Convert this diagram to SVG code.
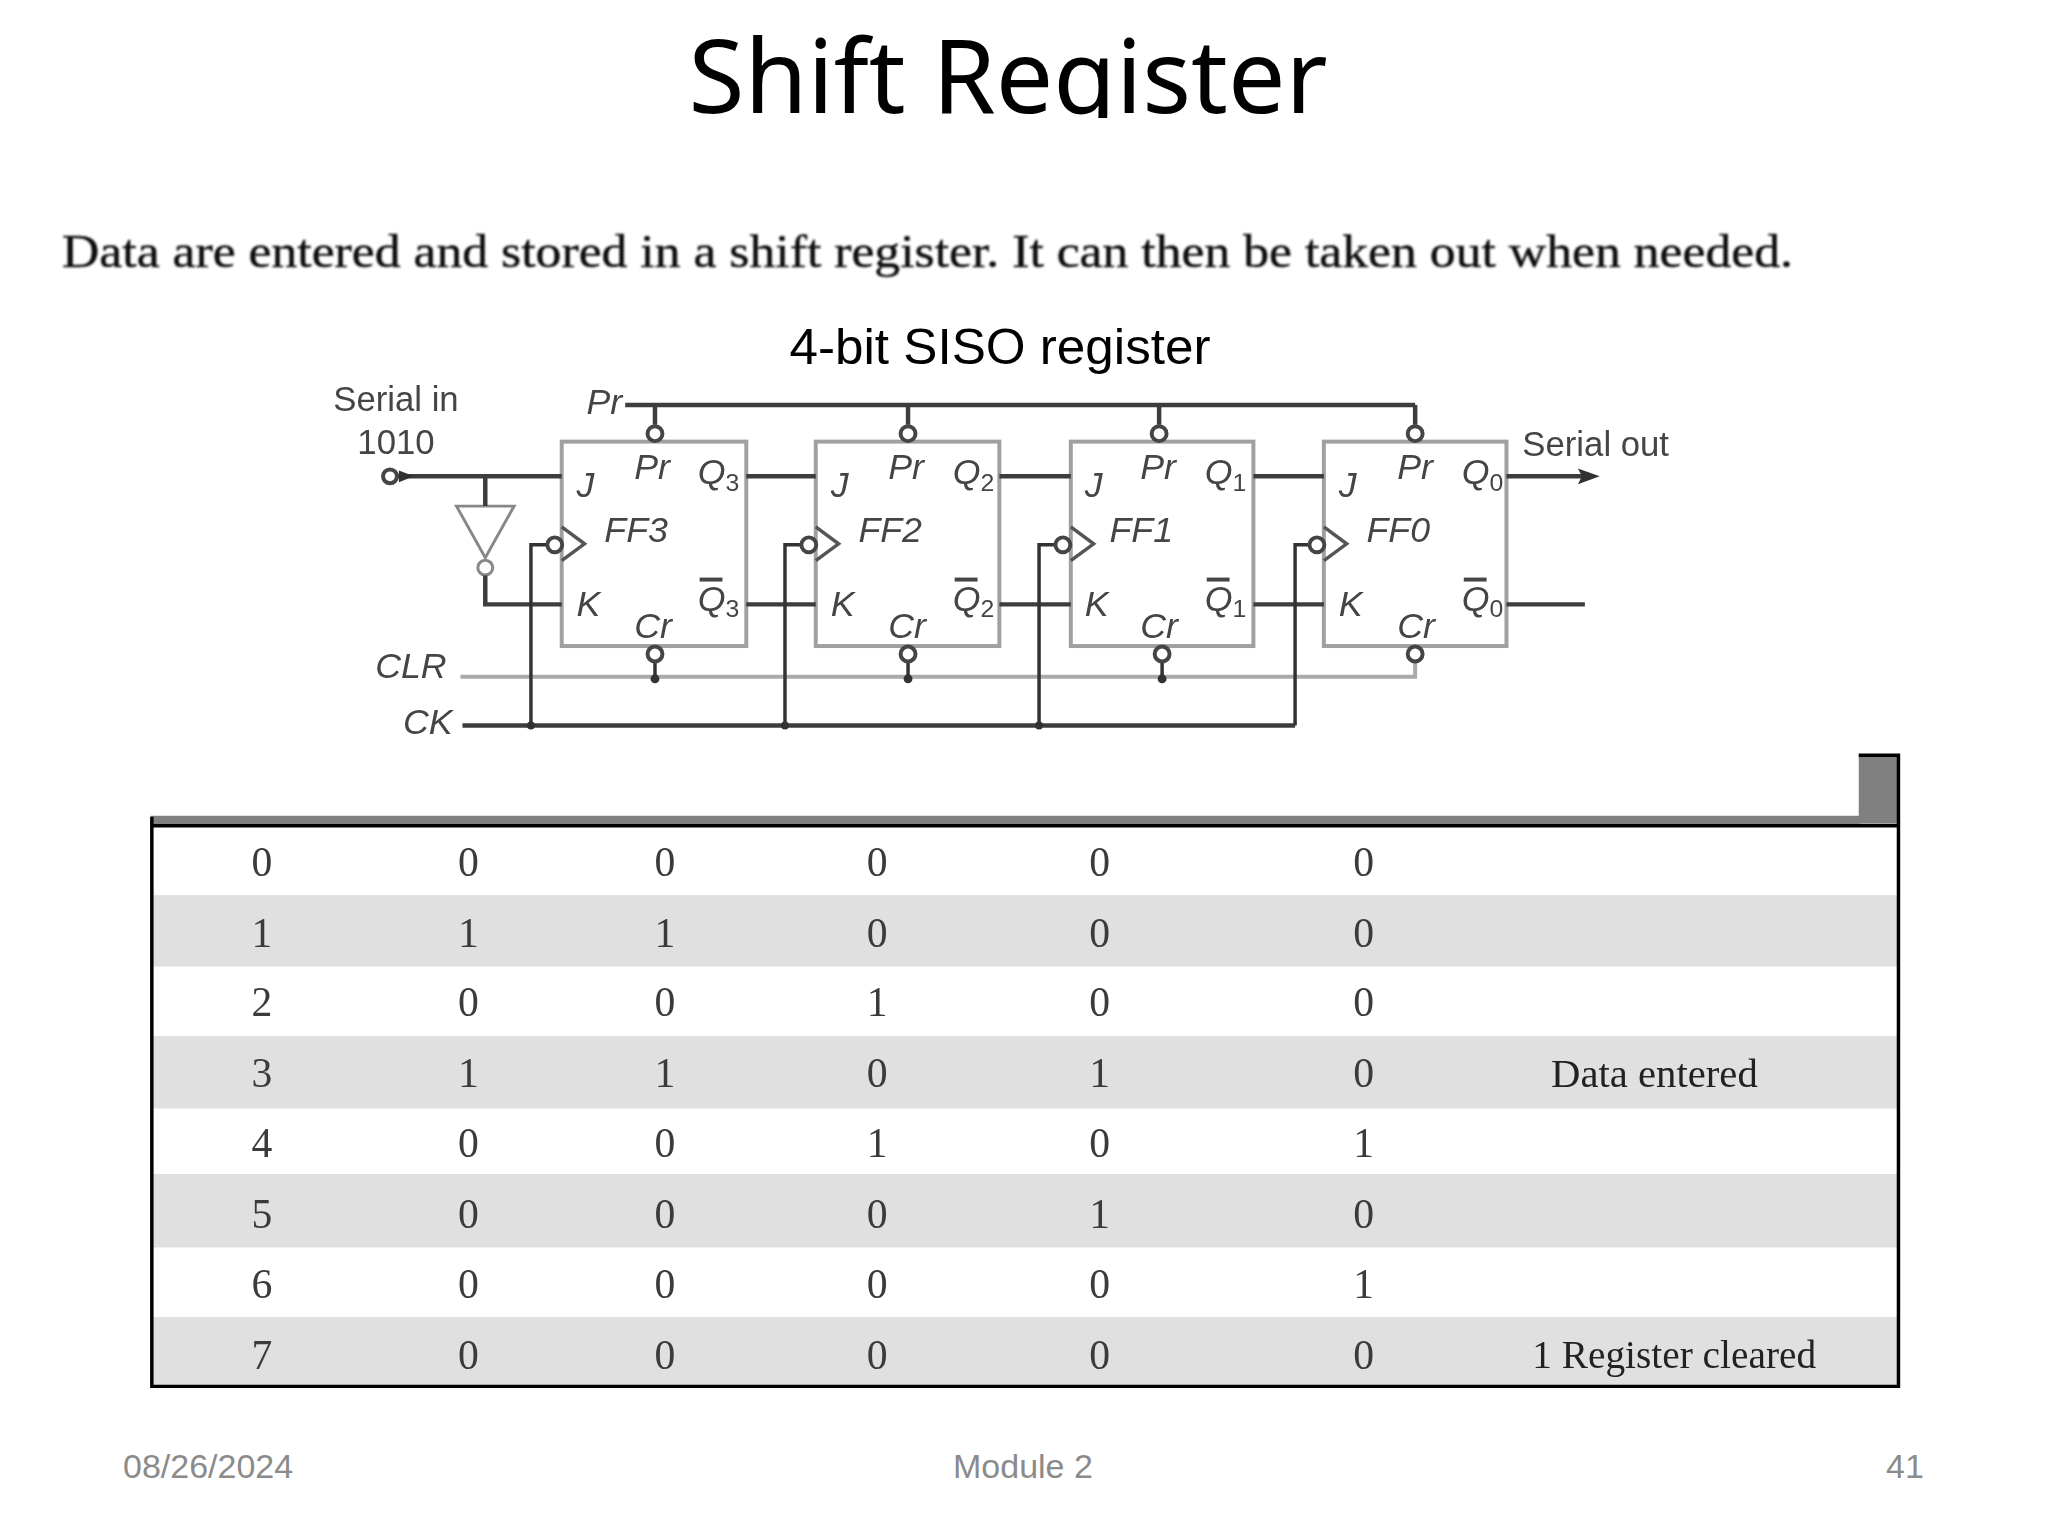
<svg xmlns="http://www.w3.org/2000/svg" width="2048" height="1536" viewBox="0 0 2048 1536">
<style>
.title{font-family:"Noto Sans","Open Sans",sans-serif;font-size:102px;fill:#000;text-anchor:middle}
.sub{font-family:"Liberation Sans",Arial,sans-serif;font-size:50px;fill:#000;text-anchor:middle}
.intro{font-family:"Liberation Serif",serif;font-size:46px;fill:#111;stroke:#222;stroke-width:.5}
.foot{font-family:"Liberation Sans",Arial,sans-serif;font-size:34px;fill:#8b8b8b}
.lab{font-family:"Liberation Sans",Arial,sans-serif;font-size:35px;fill:#444}
.it{font-family:"Liberation Sans",Arial,sans-serif;font-size:36px;fill:#444;font-style:italic}
.sb{font-family:"Liberation Sans",Arial,sans-serif;font-size:25px;fill:#444}
.c{font-family:"Liberation Serif",serif;font-size:42px;fill:#3a3a3a;text-anchor:middle}
.n{font-family:"Liberation Serif",serif;font-size:41px;fill:#222}
.box{fill:#fff;stroke:#a0a0a0;stroke-width:4}
.w{fill:none;stroke:#3c3c3c;stroke-width:4.5}
.w2{fill:none;stroke:#333;stroke-width:3.5}
.g{fill:none;stroke:#aaa;stroke-width:4}
.b{fill:#fff;stroke:#444;stroke-width:4}
.ck{fill:none;stroke:#555;stroke-width:3.5}
.band{fill:#e0e0e0}
.edge{fill:none;stroke:#000;stroke-width:3.5}
</style>
<defs>
<clipPath id="tc"><rect x="600" y="0" width="850" height="118"/></clipPath>
<filter id="s" x="-5%" y="-5%" width="110%" height="110%"><feGaussianBlur stdDeviation="0.8"/></filter>
</defs>
<rect width="2048" height="1536" fill="#fff"/>
<g id="title"><text class="title" x="1008" y="113" clip-path="url(#tc)">Shift Register</text></g>
<g id="intro" filter="url(#s)"><text class="intro" x="62" y="267" textLength="1731" lengthAdjust="spacingAndGlyphs">Data are entered and stored in a shift register. It can then be taken out when needed.</text></g>
<g id="caption"><text class="sub" x="1000" y="364" textLength="421" lengthAdjust="spacingAndGlyphs">4-bit SISO register</text></g>
<g id="circuit" filter="url(#s)" transform="scale(.9924)">
<g id="FF3"><rect class="box" x="566" y="445" width="186" height="206"/>
<path class="ck" d="M566 531L589 548L566 565"/>
<text class="it" x="581" y="501">J</text><text class="it" x="581" y="621">K</text>
<text class="it" x="639" y="483">Pr</text><text class="it" x="639" y="643">Cr</text><text class="it" x="609" y="546">FF3</text>
<text class="it" x="703" y="488">Q</text><text class="sb" x="731" y="495">3</text>
<text class="it" x="703" y="616">Q</text><text class="sb" x="731" y="622">3</text><rect x="705" y="582" width="23" height="4" fill="#444"/>
</g>
<g id="FF2"><rect class="box" x="822" y="445" width="185" height="206"/>
<path class="ck" d="M822 531L845 548L822 565"/>
<text class="it" x="837" y="501">J</text><text class="it" x="837" y="621">K</text>
<text class="it" x="895" y="483">Pr</text><text class="it" x="895" y="643">Cr</text><text class="it" x="865" y="546">FF2</text>
<text class="it" x="960" y="488">Q</text><text class="sb" x="988" y="495">2</text>
<text class="it" x="960" y="616">Q</text><text class="sb" x="988" y="622">2</text><rect x="962" y="582" width="23" height="4" fill="#444"/>
</g>
<g id="FF1"><rect class="box" x="1079" y="445" width="184" height="206"/>
<path class="ck" d="M1079 531L1102 548L1079 565"/>
<text class="it" x="1093" y="501">J</text><text class="it" x="1093" y="621">K</text>
<text class="it" x="1149" y="483">Pr</text><text class="it" x="1149" y="643">Cr</text><text class="it" x="1118" y="546">FF1</text>
<text class="it" x="1214" y="488">Q</text><text class="sb" x="1242" y="495">1</text>
<text class="it" x="1214" y="616">Q</text><text class="sb" x="1242" y="622">1</text><rect x="1216" y="582" width="23" height="4" fill="#444"/>
</g>
<g id="FF0"><rect class="box" x="1334" y="445" width="184" height="206"/>
<path class="ck" d="M1334 531L1357 548L1334 565"/>
<text class="it" x="1349" y="501">J</text><text class="it" x="1349" y="621">K</text>
<text class="it" x="1408" y="483">Pr</text><text class="it" x="1408" y="643">Cr</text><text class="it" x="1377" y="546">FF0</text>
<text class="it" x="1473" y="488">Q</text><text class="sb" x="1501" y="495">0</text>
<text class="it" x="1473" y="616">Q</text><text class="sb" x="1501" y="622">0</text><rect x="1475" y="582" width="23" height="4" fill="#444"/>
</g>
<g id="inverter"><path d="M460 510H518L489 562Z" fill="#fff" stroke="#888" stroke-width="3"/><circle cx="489" cy="572" r="7.5" fill="#fff" stroke="#888" stroke-width="3"/></g>
<g id="connectors">
<path class="w" d="M630 408H1426"/>
<path class="w" d="M660 408V428M915 408V428M1168 408V428M1426 408V428"/>
<path class="w" d="M400 480H566M489 480V510M489 580V609H566"/>
<path class="w" d="M752 480H822M1007 480H1079M1263 480H1334M752 609H822M1007 609H1079M1263 609H1334"/>
<path class="w" d="M1518 480H1605M1518 609H1597"/>
<path d="M1612 480L1590 472L1594 480L1590 488Z" fill="#333"/>
<path class="g" d="M464 682H1426V668"/>
<path class="w2" d="M660 668V682M915 668V682M1171 668V682"/>
<path class="w" d="M466 731H1305"/>
<path class="w2" d="M535 731V549H552M791 731V549H808M1047 731V549H1064M1305 731V549H1322"/>
</g>
<g id="bubbles">
<circle class="b" cx="660" cy="437" r="7.5"/><circle class="b" cx="915" cy="437" r="7.5"/><circle class="b" cx="1168" cy="437" r="7.5"/><circle class="b" cx="1426" cy="437" r="7.5"/>
<circle class="b" cx="660" cy="659" r="7.5"/><circle class="b" cx="915" cy="659" r="7.5"/><circle class="b" cx="1171" cy="659" r="7.5"/><circle class="b" cx="1426" cy="659" r="7.5"/>
<circle class="b" cx="559" cy="549" r="7.5"/><circle class="b" cx="815" cy="549" r="7.5"/><circle class="b" cx="1071" cy="549" r="7.5"/><circle class="b" cx="1327" cy="549" r="7.5"/>
<circle class="b" cx="393" cy="480" r="7"/>
<path d="M417 480L402 474V486Z" fill="#333"/>
<circle cx="660" cy="684" r="4.5" fill="#333"/><circle cx="915" cy="684" r="4.5" fill="#333"/><circle cx="1171" cy="684" r="4.5" fill="#333"/>
<circle cx="535" cy="731" r="4" fill="#333"/><circle cx="791" cy="731" r="4" fill="#333"/><circle cx="1047" cy="731" r="4" fill="#333"/>
</g>
<g id="circuit-labels">
<text class="lab" x="399" y="414" text-anchor="middle">Serial in</text>
<text class="lab" x="399" y="457" text-anchor="middle">1010</text>
<text class="it" x="591" y="417">Pr</text>
<text class="it" x="378" y="683">CLR</text>
<text class="it" x="406" y="740">CK</text>
<text class="lab" x="1534" y="459">Serial out</text>
</g>
</g>
<g id="table" filter="url(#s)" transform="scale(.9924)">
<rect class="band" x="154" y="902" width="1758" height="72"/>
<rect class="band" x="154" y="1044" width="1758" height="73"/>
<rect class="band" x="154" y="1183" width="1758" height="74"/>
<rect class="band" x="154" y="1327" width="1758" height="70"/>
<rect x="152" y="822" width="1722" height="10" fill="#808080"/>
<rect x="1873" y="760" width="41" height="70" fill="#808080"/>
<path class="edge" d="M1873 761H1913V1397H153V823"/>
<path class="edge" d="M153 832H1913"/>
<g id="row0"><text class="c" x="264" y="883">0</text><text class="c" x="472" y="883">0</text><text class="c" x="670" y="883">0</text><text class="c" x="884" y="883">0</text><text class="c" x="1108" y="883">0</text><text class="c" x="1374" y="883">0</text></g>
<g id="row1"><text class="c" x="264" y="954">1</text><text class="c" x="472" y="954">1</text><text class="c" x="670" y="954">1</text><text class="c" x="884" y="954">0</text><text class="c" x="1108" y="954">0</text><text class="c" x="1374" y="954">0</text></g>
<g id="row2"><text class="c" x="264" y="1024">2</text><text class="c" x="472" y="1024">0</text><text class="c" x="670" y="1024">0</text><text class="c" x="884" y="1024">1</text><text class="c" x="1108" y="1024">0</text><text class="c" x="1374" y="1024">0</text></g>
<g id="row3"><text class="c" x="264" y="1095">3</text><text class="c" x="472" y="1095">1</text><text class="c" x="670" y="1095">1</text><text class="c" x="884" y="1095">0</text><text class="c" x="1108" y="1095">1</text><text class="c" x="1374" y="1095">0</text><text class="n" x="1563" y="1095">Data entered</text></g>
<g id="row4"><text class="c" x="264" y="1166">4</text><text class="c" x="472" y="1166">0</text><text class="c" x="670" y="1166">0</text><text class="c" x="884" y="1166">1</text><text class="c" x="1108" y="1166">0</text><text class="c" x="1374" y="1166">1</text></g>
<g id="row5"><text class="c" x="264" y="1237">5</text><text class="c" x="472" y="1237">0</text><text class="c" x="670" y="1237">0</text><text class="c" x="884" y="1237">0</text><text class="c" x="1108" y="1237">1</text><text class="c" x="1374" y="1237">0</text></g>
<g id="row6"><text class="c" x="264" y="1308">6</text><text class="c" x="472" y="1308">0</text><text class="c" x="670" y="1308">0</text><text class="c" x="884" y="1308">0</text><text class="c" x="1108" y="1308">0</text><text class="c" x="1374" y="1308">1</text></g>
<g id="row7"><text class="c" x="264" y="1379">7</text><text class="c" x="472" y="1379">0</text><text class="c" x="670" y="1379">0</text><text class="c" x="884" y="1379">0</text><text class="c" x="1108" y="1379">0</text><text class="c" x="1374" y="1379">0</text><text class="n" x="1544" y="1378" textLength="286" lengthAdjust="spacingAndGlyphs">1 Register cleared</text></g>
</g>
<g id="footer">
<text class="foot" x="123" y="1478">08/26/2024</text>
<text class="foot" x="953" y="1478">Module 2</text>
<text class="foot" x="1886" y="1478">41</text>
</g>
</svg>
